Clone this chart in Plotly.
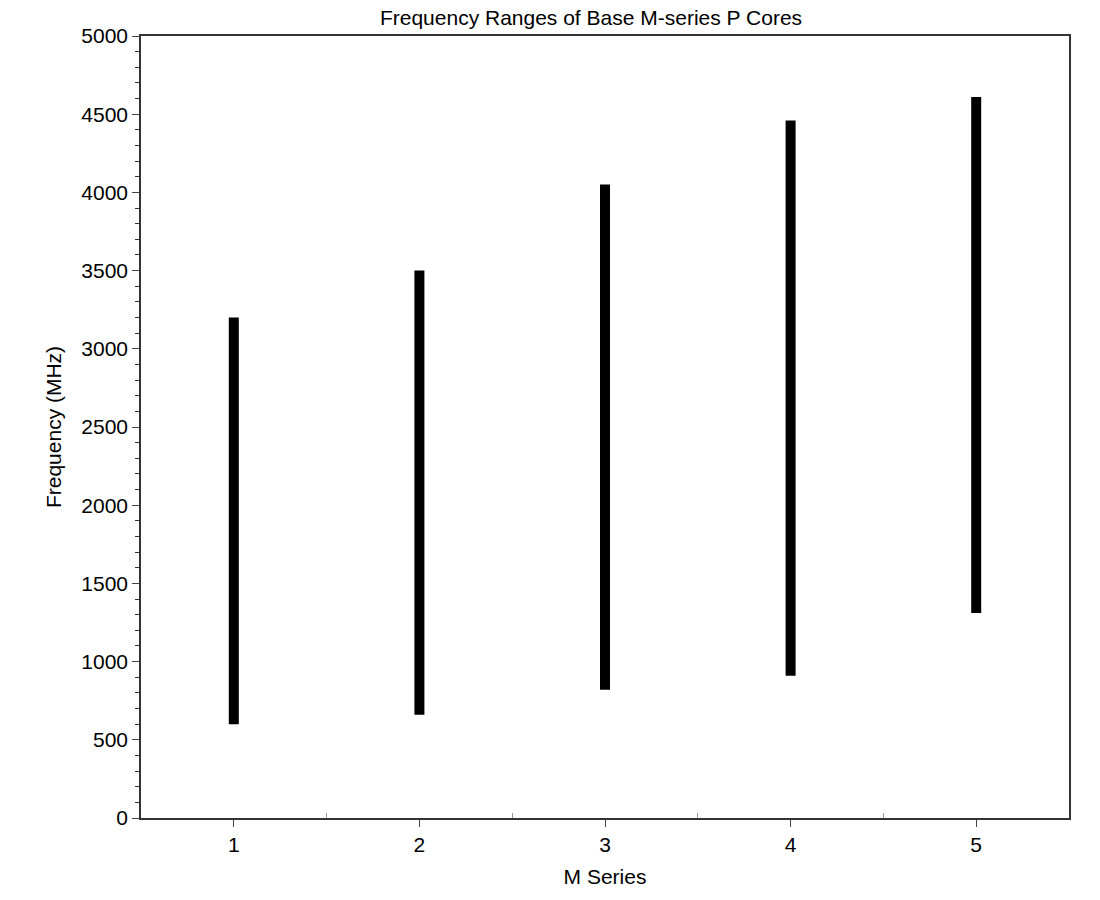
import plotly.graph_objects as go

series = [1, 2, 3, 4, 5]
low_mhz = [600, 660, 820, 910, 1310]
high_mhz = [3200, 3500, 4050, 4460, 4610]

fig = go.Figure()
for s, lo, hi in zip(series, low_mhz, high_mhz):
    fig.add_trace(go.Scatter(x=[s, s], y=[lo, hi], mode="lines",
                             line=dict(color="black", width=10), showlegend=False,
                             hoverinfo="skip"))

fig.update_layout(
    width=1100, height=900, plot_bgcolor="white", paper_bgcolor="white",
    margin=dict(l=133, r=39, t=28, b=90),
    font=dict(family="Liberation Sans, Arial", size=21, color="black"),
    title=dict(text="Frequency Ranges of Base M-series P Cores", x=0.53, xanchor="center",
               y=1 - 10/900, yanchor="middle", font=dict(size=21)),
)
fig.update_xaxes(range=[0.5, 5.5], tickvals=series, ticks="outside", ticklen=7,
                 tickfont=dict(size=21),
                 showgrid=False, zeroline=False, showline=True, linecolor="#333",
                 linewidth=1.5, mirror=True,
                 minor=dict(tickvals=[1.5, 2.5, 3.5, 4.5], ticks="inside", ticklen=5,
                            tickcolor="#999"),
                 title=dict(text="M Series", standoff=14, font=dict(size=21)))
fig.update_yaxes(range=[0, 5000], dtick=500, ticks="outside", ticklen=7,
                 tickfont=dict(size=21),
                 showgrid=False, zeroline=False, showline=True, linecolor="#333",
                 linewidth=1.5, mirror=True,
                 minor=dict(dtick=100, ticks="outside", ticklen=4, tickcolor="#333"),
                 title=dict(text="Frequency (MHz)", standoff=14, font=dict(size=21)))
fig.write_html("out.html")
